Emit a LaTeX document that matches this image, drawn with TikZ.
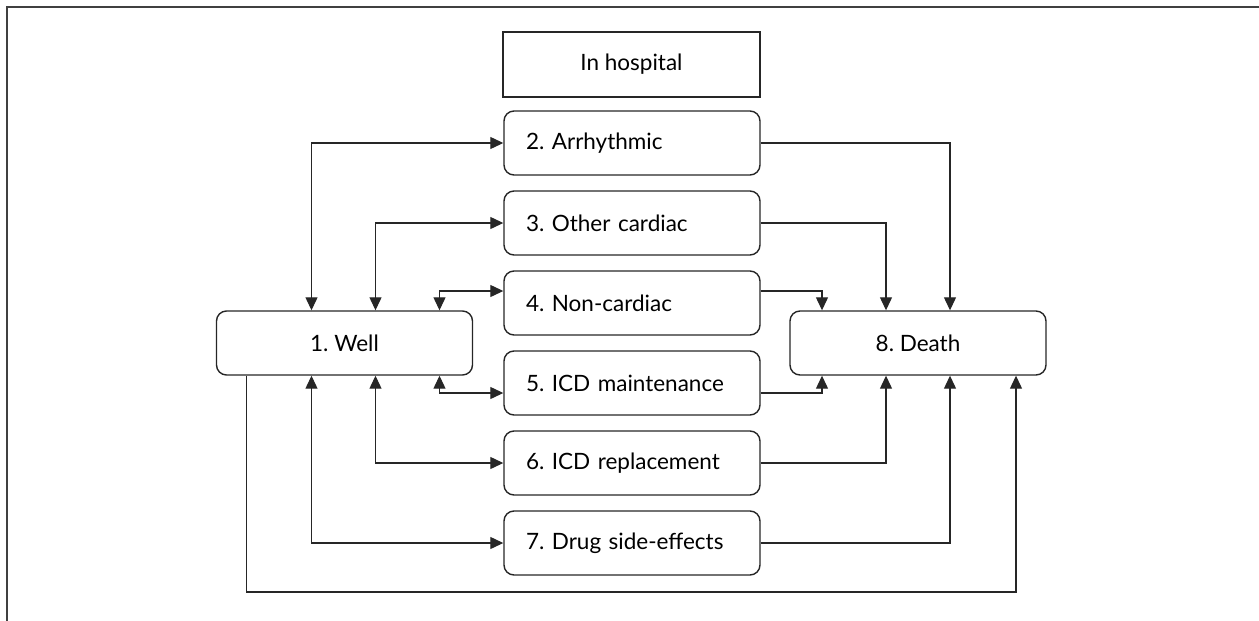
\documentclass[tikz,border=0pt]{standalone}
\usepackage{fontspec}
\setmainfont{Lato}
\frenchspacing
\usetikzlibrary{arrows.meta}
\tikzset{
  box/.style={draw=black!85, line width=1.4pt, rounded corners=10pt, minimum height=64pt, font=\fontsize{22.5}{26}\selectfont},
  midbox/.style={box, text width=212pt, inner xsep=22pt, align=left},
  endbox/.style={box, minimum width=256pt},
  hospbox/.style={draw=black!85, line width=1.6pt, minimum width=257pt, minimum height=65pt, font=\fontsize{22.5}{26}\selectfont},
  conn/.style={draw=black!85, line width=1.2pt},
  tip/.style={-{Triangle[length=13pt,width=12pt]}},
  both/.style={{Triangle[length=13pt,width=12pt]}-{Triangle[length=13pt,width=12pt]}},
  frame/.style={draw=black!75, line width=2pt}
}
\begin{document}
\begin{tikzpicture}[x=1pt,y=-1pt]
\useasboundingbox (0,0) rectangle (1259,621);
\coordinate (fbl) at (7,621);
\coordinate (ftl) at (7,7);
\coordinate (ftr) at (1259,7);
\draw[frame] (fbl) -- (ftl) -- (ftr);

\node[hospbox] (hosp) at (631.5,64.5) {In hospital};
\node[midbox] (b2) at (632,143) {2. Arrhythmic};
\node[midbox] (b3) at (632,223) {3. Other cardiac};
\node[midbox] (b4) at (632,303) {4. Non-cardiac};
\node[midbox] (b5) at (632,383) {5. ICD maintenance};
\node[midbox] (b6) at (632,463) {6. ICD replacement};
\node[midbox] (b7) at (632,543) {7. Drug side-effects};
\node[endbox] (w1) at (344.5,343) {1. Well};
\node[endbox] (d8) at (918,343) {8. Death};

% left side
\draw[conn,both] (b2.west) -| ([xshift=-33pt]w1.north);
\draw[conn,both] (b3.west) -| ([xshift=31pt]w1.north);
\draw[conn,both] ([yshift=12pt]b4.west) -| ([xshift=95pt]w1.north);
\draw[conn,both] ([yshift=-10pt]b5.west) -| ([xshift=95pt]w1.south);
\draw[conn,both] (b6.west) -| ([xshift=31pt]w1.south);
\draw[conn,both] (b7.west) -| ([xshift=-33pt]w1.south);

% right side
\draw[conn,tip] (b2.east) -| ([xshift=32pt]d8.north);
\draw[conn,tip] (b3.east) -| ([xshift=-32pt]d8.north);
\draw[conn,tip] ([yshift=12pt]b4.east) -| ([xshift=-96pt]d8.north);
\draw[conn,tip] ([yshift=-10pt]b5.east) -| ([xshift=-96pt]d8.south);
\draw[conn,tip] (b6.east) -| ([xshift=-32pt]d8.south);
\draw[conn,tip] (b7.east) -| ([xshift=32pt]d8.south);

% bottom loop
\coordinate (loop) at (0,592);
\draw[conn,tip] ([xshift=-98pt]w1.south) -- ([xshift=-98pt]w1.south |- loop) -| ([xshift=98pt]d8.south);
\end{tikzpicture}
\end{document}
